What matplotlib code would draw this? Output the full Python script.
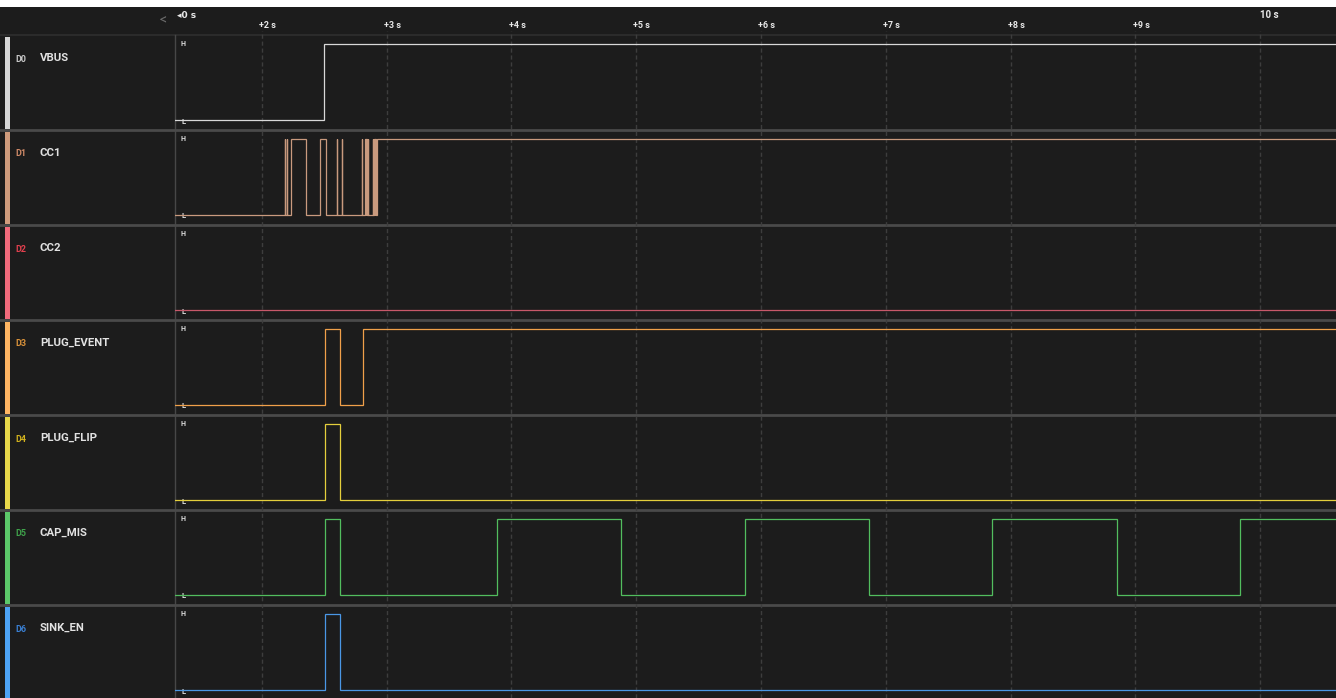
import matplotlib
matplotlib.use("Agg")
import matplotlib.pyplot as plt
import matplotlib.transforms as mtransforms
from matplotlib.patches import Rectangle

# ---------------- data ----------------
channels = ["D0", "D1", "D2", "D3", "D4", "D5", "D6"]
names = ["VBUS", "CC1", "CC2", "PLUG_EVENT", "PLUG_FLIP", "CAP_MIS", "SINK_EN"]
initial_levels = [0, 0, 0, 0, 0, 0, 0]

vbus_edges = [2.499]
cc1_edges = [2.189, 2.190, 2.205, 2.206, 2.231, 2.353, 2.467, 2.518,
             2.606, 2.607, 2.641, 2.642, 2.801, 2.802,
             2.828, 2.833, 2.838, 2.843, 2.848, 2.854,
             2.889, 2.894, 2.899, 2.904, 2.909, 2.914, 2.921]
cc2_edges = []
plug_event_edges = [2.505, 2.627, 2.809]
plug_flip_edges = [2.505, 2.627]
cap_mis_edges = [2.505, 2.627, 3.885, 4.879, 5.873, 6.866, 7.852, 8.851, 9.841]
sink_en_edges = [2.505, 2.627]
all_edges = [vbus_edges, cc1_edges, cc2_edges, plug_event_edges,
             plug_flip_edges, cap_mis_edges, sink_en_edges]

tick_times = [2, 3, 4, 5, 6, 7, 8, 9, 10]
tick_labels = ["+2 s", "+3 s", "+4 s", "+5 s", "+6 s", "+7 s", "+8 s", "+9 s", "10 s"]
t_min, t_max = 1.305, 10.608

line_colors = ["#d8d8d8", "#c99a7e", "#c8586a", "#f0a04a", "#e4cf3c", "#52bd5e", "#4a97e6"]
bar_colors = ["#d6d6d6", "#cf9b7c", "#f26b7c", "#ffb562", "#e8d84a", "#5cc86a", "#4da3f5"]
id_colors = ["#c8c8c8", "#d08a68", "#e2404e", "#d9923a", "#d2b21e", "#3fa24b", "#3a80d4"]

# ---------------- layout (pixels) ----------------
W, H = 1336, 698
BG = "#1c1c1c"
plot_left = 175
header_top, header_bot = 7, 35
row_h = 95

plt.rcParams['font.family'] = ['Roboto', 'DejaVu Sans']
fig = plt.figure(figsize=(W / 100, H / 100), dpi=100, facecolor="white")

bg = fig.add_axes([0, 0, 1, 1], zorder=0)
bg.set_xlim(0, W)
bg.set_ylim(H, 0)
bg.axis("off")
bg.add_patch(Rectangle((0, header_top), W, H - header_top, facecolor=BG, edgecolor="none"))
bg.plot([0, W], [header_bot - 0.5, header_bot - 0.5], color="#2b2b2b", lw=1.5)
bg.plot([plot_left, plot_left], [header_bot, H], color="#474747", lw=1.0)
bg.text(163, 20, "<", color="#6a6a6a", fontsize=10, ha="center", va="center")


def fig_rect(x0, y0, x1, y1):
    return [x0 / W, 1 - y1 / H, (x1 - x0) / W, (y1 - y0) / H]


grid_ax = fig.add_axes(fig_rect(plot_left, 31, W, H), zorder=1)
grid_ax.set_xlim(t_min, t_max)
grid_ax.set_ylim(0, 1)
grid_ax.axis("off")
grid_ax.patch.set_alpha(0)
for t in tick_times:
    grid_ax.axvline(t, color="#3d3d3d", lw=1.0, ls=(0, (3, 2)))

trans = mtransforms.blended_transform_factory(grid_ax.transData, bg.transData)
for t, lab in zip(tick_times, tick_labels):
    if lab.startswith("+"):
        bg.text(t - 0.022, 25, lab, transform=trans, color="#e8e8e8", fontsize=6.5,
                fontweight="bold", ha="left", va="center")
    else:
        bg.text(t, 15, lab, transform=trans, color="#e8e8e8", fontsize=7,
                fontweight="bold", ha="left", va="center")
bg.text(177, 15, "◂0 s", color="#e8e8e8", fontsize=6.5, fontweight="bold",
        ha="left", va="center", family=["DejaVu Sans"])

ymin = -10 / 76
ymax = 1 + 9 / 76
for i, (cid, name, edges, lvl0) in enumerate(zip(channels, names, all_edges, initial_levels)):
    top = header_bot + row_h * i
    bot = top + row_h
    if i < len(channels) - 1:
        bg.plot([0, W], [bot, bot], color="#4a4a4a", lw=2.0, zorder=3)
    bg.add_patch(Rectangle((5, top + 1.5), 5, row_h - 3, facecolor=bar_colors[i], edgecolor="none"))
    bg.text(15, top + 24, cid, color=id_colors[i], fontsize=6.5, fontweight="bold",
            ha="left", va="center")
    bg.text(40, top + 23, name, color="#e2e2e2", fontsize=8.2, fontweight="bold",
            ha="left", va="center")

    ax = fig.add_axes(fig_rect(plot_left, top, W, bot), zorder=2)
    ax.set_xlim(t_min, t_max)
    ax.set_ylim(ymin, ymax)
    ax.axis("off")
    ax.patch.set_alpha(0)
    ts = [t_min] + list(edges) + [t_max]
    levels = []
    lv = lvl0
    levels.append(lv)
    for _ in edges:
        lv = 1 - lv
        levels.append(lv)
    levels.append(lv)
    ax.step(ts, levels, where="post", color=line_colors[i], lw=0.9, solid_joinstyle="miter")
    bg.text(183, top + 9, "H", color="#e0e0e0", fontsize=5, fontweight="bold",
            ha="center", va="center", zorder=5)
    bg.text(183.5, top + 86, "L", color="#e0e0e0", fontsize=5.5, fontweight="bold",
            ha="center", va="center", zorder=5)

fig.savefig("out.png", dpi=100, facecolor="white")
